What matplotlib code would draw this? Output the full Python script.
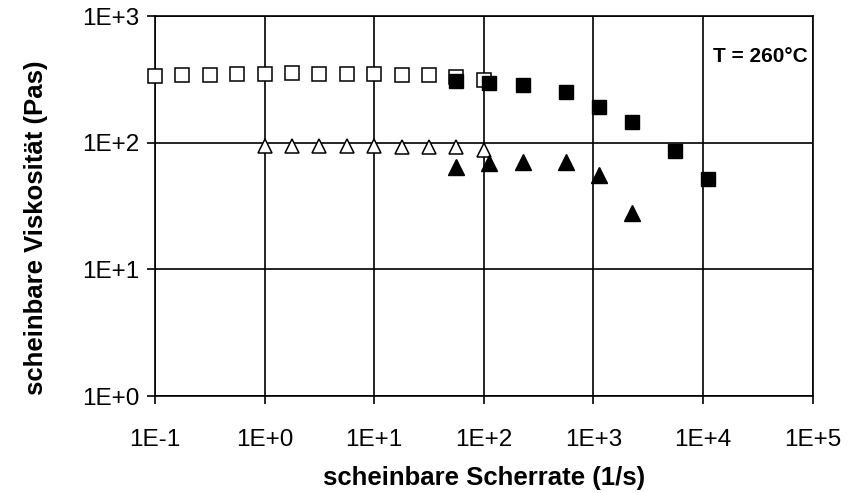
import matplotlib
matplotlib.use("Agg")
import matplotlib.pyplot as plt
from matplotlib.ticker import FixedLocator, NullLocator

plt.rcParams["font.family"] = ["Liberation Sans", "DejaVu Sans"]

# open symbols (capillary / low shear)
open_x = [0.1, 0.178, 0.316, 0.562, 1, 1.78, 3.16, 5.62, 10, 17.8, 31.6, 56.2, 100]
open_sq_y = [335, 345, 345, 348, 350, 352, 350, 350, 348, 345, 340, 330, 313]
open_tri_x = [1, 1.78, 3.16, 5.62, 10, 17.8, 31.6, 56.2, 100]
open_tri_y = [95, 95, 94, 94, 94, 93, 93, 92, 88]

# filled symbols (high shear)
fill_sq_x = [56.2, 112, 226, 561, 1130, 2244, 5560, 11170]
fill_sq_y = [307, 298, 288, 252, 193, 147, 86, 52]
fill_tri_x = [56.2, 112, 226, 561, 1130, 2244]
fill_tri_y = [64, 69, 71, 70, 56, 28]

x_ticks = [1e-1, 1e0, 1e1, 1e2, 1e3, 1e4, 1e5]
x_labels = ["1E-1", "1E+0", "1E+1", "1E+2", "1E+3", "1E+4", "1E+5"]
y_ticks = [1e0, 1e1, 1e2, 1e3]
y_labels = ["1E+0", "1E+1", "1E+2", "1E+3"]

fig = plt.figure(figsize=(8.63, 4.93), dpi=100)
ax = fig.add_axes([0.1796, 0.1965, 0.7619, 0.7710])

ax.plot(open_x, open_sq_y, linestyle="none", marker="s", markersize=9.5,
        markerfacecolor="white", markeredgecolor="black", markeredgewidth=1.1,
        zorder=3, clip_on=False)
ax.plot(open_tri_x, open_tri_y, linestyle="none", marker="^", markersize=10.5,
        markerfacecolor="white", markeredgecolor="black", markeredgewidth=1.1, zorder=3)
ax.plot(fill_sq_x, fill_sq_y, linestyle="none", marker="s", markersize=10,
        color="black", zorder=4)
ax.plot(fill_tri_x, fill_tri_y, linestyle="none", marker="^", markersize=11,
        color="black", zorder=4)

ax.set_xscale("log")
ax.set_yscale("log")
ax.set_xlim(1e-1, 1e5)
ax.set_ylim(1e0, 1e3)

ax.xaxis.set_major_locator(FixedLocator(x_ticks))
ax.xaxis.set_minor_locator(NullLocator())
ax.yaxis.set_major_locator(FixedLocator(y_ticks))
ax.yaxis.set_minor_locator(NullLocator())
ax.set_xticklabels(x_labels)
ax.set_yticklabels(y_labels)

ax.tick_params(axis="both", direction="out", length=5.5, width=1.2,
               labelsize=17.5, color="black")
ax.tick_params(axis="x", pad=18)
ax.tick_params(axis="y", pad=6)

ax.grid(True, color="black", linewidth=1.2)
ax.set_axisbelow(True)
for side in ["top", "right", "bottom", "left"]:
    ax.spines[side].set_linewidth(1.2)

ax.set_xlabel("scheinbare Scherrate (1/s)", fontsize=18.5, fontweight="bold", labelpad=11)
ax.set_ylabel("scheinbare Viskosität (Pas)", fontsize=18.5, fontweight="bold")
ax.yaxis.set_label_coords(-0.162, 0.443)

ax.text(0.992, 0.893, "T = 260°C", transform=ax.transAxes, ha="right", va="center",
        fontsize=15, fontweight="bold")

fig.savefig("out.png", dpi=100)
